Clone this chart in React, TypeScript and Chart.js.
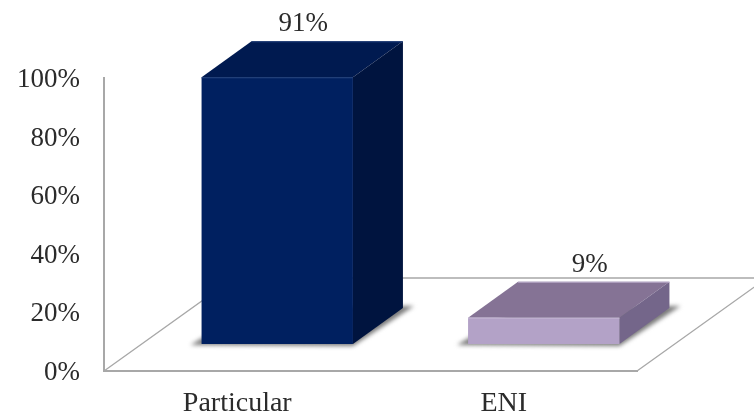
import React, { useEffect, useRef } from "react";
import { Chart, registerables } from "chart.js";

Chart.register(...registerables);

const categories = ["Particular", "ENI"];
const shares = [91, 9];
const tickStep = 20;
const frontColors = ["#002060", "#b3a2c7"];
const topColors = ["#001a50", "#857395"];
const sideColors = ["#00143f", "#74668a"];
const edgeColors = ["#1a3a78", "#c4b6d4"];

const SERIF = '"Liberation Serif", "Times New Roman", serif';
const TEXT = "#2b2b2b";
const AXIS_GRAY = "#a8a8a8";

// Bars stand part-way into the floor, and each has its own extrusion.
const INSET = { x: 40, y: -27 };
const EXTRUDE = { x: 50, y: -36 };
const FLOOR = { x: 130, y: -93 };
const LABEL_SHIFT = [26, 46];

const solidBars = {
  id: "solidBars",
  beforeDatasetsDraw(chart: any) {
    const { ctx, chartArea: a, scales } = chart;
    const meta = chart.getDatasetMeta(0);

    // Floor outline behind the bars
    ctx.save();
    ctx.strokeStyle = AXIS_GRAY;
    ctx.lineWidth = 1.3;
    ctx.beginPath();
    ctx.moveTo(a.left, a.bottom);
    ctx.lineTo(a.left + FLOOR.x, a.bottom + FLOOR.y);
    ctx.lineTo(a.right + FLOOR.x, a.bottom + FLOOR.y);
    ctx.lineTo(a.right, a.bottom);
    ctx.stroke();
    ctx.restore();

    meta.data.forEach((el: any, i: number) => {
      const left = el.x - el.width / 2 + INSET.x;
      const right = el.x + el.width / 2 + INSET.x;
      const top = el.y + INSET.y;
      const base = scales.y.getPixelForValue(0) + INSET.y;

      // Soft contact shadow under the footprint
      ctx.save();
      ctx.filter = "blur(2px)";
      ctx.fillStyle = "#7a7a7a";
      ctx.beginPath();
      ctx.moveTo(left - 11, base + 1);
      ctx.lineTo(right, base + 2);
      ctx.lineTo(right + EXTRUDE.x + 11, base + EXTRUDE.y - 2);
      ctx.lineTo(left + EXTRUDE.x, base + EXTRUDE.y);
      ctx.closePath();
      ctx.fill();
      ctx.restore();

      // Top face
      ctx.fillStyle = topColors[i];
      ctx.beginPath();
      ctx.moveTo(left, top);
      ctx.lineTo(left + EXTRUDE.x, top + EXTRUDE.y);
      ctx.lineTo(right + EXTRUDE.x, top + EXTRUDE.y);
      ctx.lineTo(right, top);
      ctx.closePath();
      ctx.fill();

      // Side face
      ctx.fillStyle = sideColors[i];
      ctx.beginPath();
      ctx.moveTo(right, top);
      ctx.lineTo(right + EXTRUDE.x, top + EXTRUDE.y);
      ctx.lineTo(right + EXTRUDE.x, base + EXTRUDE.y);
      ctx.lineTo(right, base);
      ctx.closePath();
      ctx.fill();
    });
  },
  beforeDatasetDraw(chart: any) {
    chart.ctx.save();
    chart.ctx.translate(INSET.x, INSET.y);
  },
  afterDatasetDraw(chart: any) {
    chart.ctx.restore();
  },
  afterDatasetsDraw(chart: any) {
    const { ctx } = chart;
    const meta = chart.getDatasetMeta(0);
    ctx.save();
    meta.data.forEach((el: any, i: number) => {
      const left = el.x - el.width / 2 + INSET.x;
      const right = el.x + el.width / 2 + INSET.x;
      const top = el.y + INSET.y;

      // Bevel highlight along the lit top edges
      ctx.strokeStyle = edgeColors[i];
      ctx.lineWidth = 1;
      ctx.beginPath();
      ctx.moveTo(left, top + 0.5);
      ctx.lineTo(right, top + 0.5);
      ctx.moveTo(left + EXTRUDE.x, top + EXTRUDE.y + 0.5);
      ctx.lineTo(right + EXTRUDE.x, top + EXTRUDE.y + 0.5);
      ctx.stroke();

      ctx.font = `27px ${SERIF}`;
      ctx.fillStyle = TEXT;
      ctx.textAlign = "center";
      ctx.textBaseline = "alphabetic";
      ctx.fillText(
        `${shares[i]}%`,
        el.x + INSET.x + LABEL_SHIFT[i],
        top + EXTRUDE.y - 10
      );
    });
    ctx.restore();
  },
};

export default function App() {
  const ref = useRef<HTMLCanvasElement>(null);

  useEffect(() => {
    const chart = new Chart(ref.current as HTMLCanvasElement, {
      type: "bar",
      data: {
        labels: categories,
        datasets: [
          {
            data: shares,
            backgroundColor: frontColors,
            barPercentage: 1,
            categoryPercentage: 0.568,
          },
        ],
      },
      plugins: [solidBars],
      options: {
        animation: false,
        responsive: false,
        events: [],
        layout: { padding: { top: 78, right: 117, left: 0, bottom: 0 } },
        plugins: { legend: { display: false }, tooltip: { enabled: false } },
        scales: {
          x: {
            grid: { display: false },
            border: { display: true, color: AXIS_GRAY, width: 2 },
            ticks: {
              color: TEXT,
              font: { family: SERIF, size: 28 },
              padding: 8,
              maxRotation: 0,
            },
            afterFit(scale: any) {
              scale.height = 43;
            },
          },
          y: {
            min: 0,
            max: 100,
            grid: { display: false },
            border: { display: true, color: AXIS_GRAY, width: 2 },
            ticks: {
              stepSize: tickStep,
              color: TEXT,
              font: { family: SERIF, size: 27 },
              padding: 16,
              labelOffset: 2,
              callback: (v: any) => `${v}%`,
            },
            afterFit(scale: any) {
              scale.width = 104;
            },
          },
        },
      },
    } as any);
    return () => chart.destroy();
  }, []);

  return (
    <canvas
      ref={ref}
      width={754}
      height={414}
      style={{ position: "absolute", left: 0, top: 0, display: "block" }}
    />
  );
}
